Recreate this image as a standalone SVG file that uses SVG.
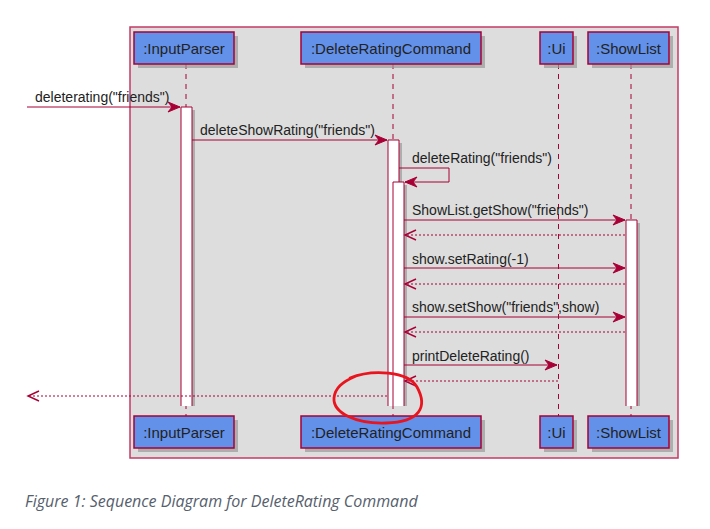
<svg xmlns="http://www.w3.org/2000/svg" width="710" height="529" viewBox="0 0 710 529">
<defs>
<style>
.frame{fill:#DDDDDD;stroke:#C43A66;stroke-width:1.5}
.box{fill:#6391E9;stroke:#A80036;stroke-width:1.5}
.shadow{fill:#9A9A9A;opacity:0.7}
.ptext{font-family:"Liberation Sans",Arial,sans-serif;font-size:15px;fill:#222}
.life{stroke:#A80036;stroke-width:1;stroke-dasharray:5,5;fill:none}
.actfill{fill:#FFFFFF;stroke:none}
.actedge{fill:none;stroke:#A80036;stroke-width:1}
.msg{stroke:#A80036;stroke-width:1;fill:none}
.ret{stroke:#A80036;stroke-width:1;fill:none;stroke-dasharray:2,2}
.head{fill:#A80036;stroke:#A80036;stroke-width:1}
.ohead{fill:none;stroke:#A80036;stroke-width:1.4}
.mtext{font-family:"Liberation Sans",Arial,sans-serif;font-size:14px;fill:#222}
.cap{font-family:"Open Sans","Noto Sans",sans-serif;font-size:16px;font-style:italic;fill:#56606C}
</style>
</defs>
<rect width="710" height="529" fill="#FFFFFF"/>
<rect class="frame" x="130" y="27" width="548" height="431"/>

<g id="InputParser">
<line class="life" x1="186" y1="64" x2="186" y2="416"/>
<rect class="shadow" x="138" y="36" width="100" height="32"/>
<rect class="box" x="134" y="32" width="100" height="32"/>
<text class="ptext" x="184" y="53.5" text-anchor="middle">:InputParser</text>
<rect class="shadow" x="138" y="420" width="100" height="32"/>
<rect class="box" x="134" y="416" width="100" height="32"/>
<text class="ptext" x="184" y="437.5" text-anchor="middle">:InputParser</text>
<rect class="shadow" x="184" y="110" width="11" height="296"/>
<rect class="actfill" x="181" y="107" width="11" height="299"/>
<path class="actedge" d="M181 406 V107 H192 V406"/>
</g>

<g id="DeleteRatingCommand">
<line class="life" x1="393" y1="64" x2="393" y2="416"/>
<rect class="shadow" x="305" y="36" width="180" height="32"/>
<rect class="box" x="301" y="32" width="180" height="32"/>
<text class="ptext" x="391" y="53.5" text-anchor="middle">:DeleteRatingCommand</text>
<rect class="shadow" x="305" y="420" width="180" height="32"/>
<rect class="box" x="301" y="416" width="180" height="32"/>
<text class="ptext" x="391" y="437.5" text-anchor="middle">:DeleteRatingCommand</text>
<rect class="shadow" x="391" y="143" width="11" height="263"/>
<rect class="actfill" x="388" y="140" width="11" height="266"/>
<path class="actedge" d="M388 406 V140 H399 V406"/>
<rect class="shadow" x="396" y="185" width="11" height="221"/>
<rect class="actfill" x="393" y="182" width="11" height="224"/>
<path class="actedge" d="M393 406 V182 H404 V406"/>
</g>

<g id="Ui">
<line class="life" x1="558.5" y1="64" x2="558.5" y2="416"/>
<rect class="shadow" x="544" y="36" width="33" height="32"/>
<rect class="box" x="540" y="32" width="33" height="32"/>
<text class="ptext" x="556.5" y="53.5" text-anchor="middle">:Ui</text>
<rect class="shadow" x="544" y="420" width="33" height="32"/>
<rect class="box" x="540" y="416" width="33" height="32"/>
<text class="ptext" x="556.5" y="437.5" text-anchor="middle">:Ui</text>
</g>

<g id="ShowList">
<line class="life" x1="631" y1="64" x2="631" y2="416"/>
<rect class="shadow" x="592" y="36" width="81" height="32"/>
<rect class="box" x="588" y="32" width="81" height="32"/>
<text class="ptext" x="628.5" y="53.5" text-anchor="middle">:ShowList</text>
<rect class="shadow" x="592" y="420" width="81" height="32"/>
<rect class="box" x="588" y="416" width="81" height="32"/>
<text class="ptext" x="628.5" y="437.5" text-anchor="middle">:ShowList</text>
<rect class="shadow" x="629" y="223" width="11" height="183"/>
<rect class="actfill" x="626" y="220" width="11" height="186"/>
<path class="actedge" d="M626 406 V220 H637 V406"/>
</g>

<g id="connectors">
<line class="msg" x1="27" y1="107" x2="180" y2="107"/>
<polygon class="head" points="180,107 168,102 172,107 168,112"/>
<text class="mtext" x="35" y="102">deleterating("friends")</text>

<line class="msg" x1="192" y1="140" x2="387" y2="140"/>
<polygon class="head" points="387,140 375,135 379,140 375,145"/>
<text class="mtext" x="200" y="134.5">deleteShowRating("friends")</text>

<polyline class="msg" points="399,168 449,168 449,182 405,182"/>
<polygon class="head" points="405,182 417,177 413,182 417,187"/>
<text class="mtext" x="412" y="162.5">deleteRating("friends")</text>

<line class="msg" x1="404" y1="220" x2="625" y2="220"/>
<polygon class="head" points="625,220 613,215 617,220 613,225"/>
<text class="mtext" x="412" y="215">ShowList.getShow("friends")</text>
<line class="ret" x1="625" y1="235" x2="405" y2="235"/>
<polyline class="ohead" points="416,230 405,235 416,240"/>

<line class="msg" x1="404" y1="268" x2="625" y2="268"/>
<polygon class="head" points="625,268 613,263 617,268 613,273"/>
<text class="mtext" x="412" y="263.5">show.setRating(-1)</text>
<line class="ret" x1="625" y1="284" x2="405" y2="284"/>
<polyline class="ohead" points="416,279 405,284 416,289"/>

<line class="msg" x1="404" y1="317" x2="625" y2="317"/>
<polygon class="head" points="625,317 613,312 617,317 613,322"/>
<text class="mtext" x="412" y="311.5">show.setShow("friends",show)</text>
<line class="ret" x1="625" y1="332" x2="405" y2="332"/>
<polyline class="ohead" points="416,327 405,332 416,337"/>

<line class="msg" x1="404" y1="365" x2="557" y2="365"/>
<polygon class="head" points="557,365 545,360 549,365 545,370"/>
<text class="mtext" x="412" y="360.5">printDeleteRating()</text>
<line class="ret" x1="558" y1="381" x2="405" y2="381"/>
<polyline class="ohead" points="416,376 405,381 416,386"/>

<line class="ret" x1="387" y1="396" x2="28" y2="396"/>
<polyline class="ohead" points="39,391 28,396 39,401"/>
</g>

<path d="M 350 378 C 372 369 408 371 417 387 C 428 407 420 422 386 423 C 356 424 333 413 334 398 C 335 388 342 382 356 376" fill="none" stroke="#E8141E" stroke-width="2.8" stroke-linecap="round"/>

<text class="cap" x="25" y="507">Figure 1: Sequence Diagram for DeleteRating Command</text>
</svg>
